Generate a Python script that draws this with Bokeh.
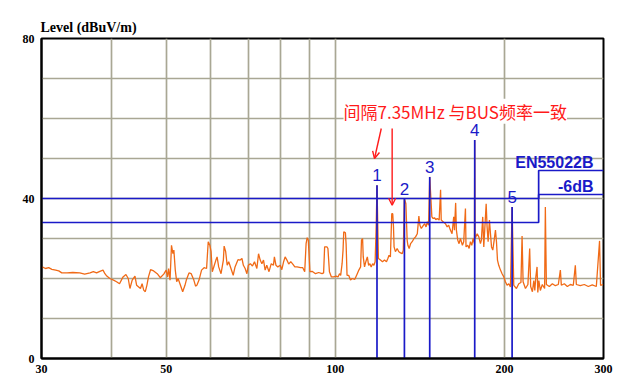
from bokeh.plotting import figure
from bokeh.models import FixedTicker, Label, Arrow, OpenHead
from bokeh.embed import file_html
from bokeh.resources import INLINE

# ---------------- data ----------------
freq = [30.08, 30.5, 30.9, 31.3, 31.8, 32.2, 32.6, 33.3, 34.1, 35.1, 35.8, 36.6, 37.1, 37.6, 38.1, 38.6,
        38.9, 39.2, 39.7, 40.3, 40.8, 41.3, 41.9, 42.4, 42.8, 43.1, 43.5, 44.0, 44.3, 45.0, 45.3, 45.6,
        45.9, 46.2, 46.5, 46.9, 47.5, 48.2, 48.8, 49.5, 50.0, 50.3, 50.5, 50.8, 51.1, 51.4, 51.6, 51.9,
        52.2, 52.5, 52.9, 53.5, 54.0, 54.3, 54.9, 55.4, 56.0, 56.4, 56.7, 57.2,
        57.8, 58.4, 59.0, 59.4, 59.8, 60.1, 60.4, 60.9, 61.3, 61.6, 62.0, 62.6, 63.2, 63.4, 63.8, 64.2,
        64.6, 65.2, 65.8, 66.3, 67.1, 67.7, 68.2, 68.6, 69.1, 69.6, 70.0, 70.6, 71.2, 71.8, 72.5, 73.0,
        73.5, 74.0, 74.5, 75.0, 75.5, 76.2, 76.9, 77.6, 77.9, 78.4, 79.0, 79.8, 80.3, 80.9, 81.4, 82.0,
        82.6, 83.3, 84.0, 84.7, 85.5, 86.7, 87.5, 88.2, 88.7, 89.1, 89.5, 89.7, 90.1, 90.9, 92.2, 93.4,
        94.7, 95.3, 95.7, 96.6, 97.0, 97.6, 98.4, 99.3, 100.3, 101.1, 101.7, 102.2, 102.8, 103.2, 103.5,
        104.2, 104.5, 104.9, 105.6, 106.4, 107.1, 108.3,
        109.4, 110.1, 110.9, 111.3, 111.8, 112.1, 112.7, 113.3, 114.0, 114.6, 115.2, 115.8, 116.5, 117.1,
        117.7, 118.2, 118.6, 119.3, 120.3, 121.3, 122.3, 123.3, 124.0, 124.6, 125.3, 126.0, 126.5, 126.9,
        127.2, 127.9, 128.8, 129.7, 130.6, 131.5, 132.1, 132.7, 133.5, 134.2, 134.6, 135.3, 136.1, 137.0,
        138.0, 138.9, 139.9, 140.8, 141.4, 142.2, 143.4, 144.2, 145.0, 145.8, 146.5, 147.2, 148.5, 149.3,
        150.1, 150.9, 151.8, 153.0, 153.9, 154.3, 155.5, 157.0, 158.1, 159.1, 160.2, 161.3, 162.4, 162.9,
        163.7, 164.2, 165.1, 166.0, 166.9, 168.3, 169.2, 170.4, 170.8, 172.0, 173.0, 173.9, 174.9, 175.8,
        176.8, 177.0, 177.3, 178.8, 180.0, 181.2,
        181.9, 182.9, 183.7, 184.4, 185.5, 186.2, 187.0, 188.0, 188.8, 189.6, 190.6, 191.7, 192.7, 193.5,
        194.3, 195.3, 196.7, 198.0, 199.4, 200.7, 202.1, 203.5, 204.9, 206.3, 207.7, 210.0, 212.0, 213.9,
        214.9, 215.8, 217.9, 220.1, 221.7, 222.6, 224.2, 225.5, 226.4, 227.4, 228.5, 229.2, 230.2, 231.6,
        233.5, 235.7, 236.4, 237.4, 240.3, 243.3, 246.3, 249.3, 251.4, 252.4, 255.5, 258.7, 261.9, 265.1,
        267.3, 268.4, 272.8, 277.3, 281.9, 286.5, 291.3, 295.2, 296.4, 299.5]
level = [22.9, 22.5, 22.7, 22.3, 22.1, 21.9, 21.4, 21.4, 21.5, 21.4, 21.1, 21.4, 21.7, 21.4, 21.8, 22.1,
         21.2, 20.6, 20.0, 19.6, 19.2, 18.7, 20.4, 21.0, 20.0, 17.5, 19.6, 20.6, 18.3, 17.5, 18.7, 17.1,
         16.7, 18.3, 20.4, 22.2, 21.9, 21.2, 20.2, 21.1, 22.1, 20.4, 22.5, 19.6, 28.3, 26.2, 27.1, 22.1,
         19.2, 20.0, 18.7, 16.7, 18.3, 19.6, 21.4, 21.2, 19.6, 18.1, 18.3, 19.6,
         22.1, 22.7, 22.5, 29.2, 28.3, 26.7, 21.7, 23.3, 24.6, 25.4, 22.9, 21.2, 24.6, 28.1, 26.7, 23.3,
         24.2, 22.5, 20.8, 22.9, 24.7, 24.6, 25.0, 23.3, 22.5, 21.2, 23.3, 23.7, 23.1, 24.2, 22.5, 26.2,
         24.6, 23.7, 24.6, 22.1, 23.3, 21.7, 23.7, 23.3, 25.4, 23.3, 22.9, 23.3, 22.2, 24.2, 25.4, 24.6,
         23.6, 24.2, 23.6, 22.9, 22.9, 22.7, 22.7, 21.7, 28.7, 30.2, 29.6, 27.1, 21.7, 21.8, 21.2, 21.5,
         21.2, 21.4, 27.9, 27.9, 27.5, 21.7, 20.4, 20.4, 20.6, 20.4, 21.2, 20.8, 23.7, 27.1, 31.7,
         31.4, 28.7, 20.8, 20.8, 19.6, 20.0, 19.8,
         21.2, 22.1, 22.9, 29.6, 30.0, 25.4, 22.9, 24.2, 25.4, 23.3, 23.7, 22.9, 23.7, 23.3,
         24.2, 32.9, 43.3, 25.0, 24.6, 24.2, 24.6, 24.2, 25.0, 25.8, 25.4, 36.2, 36.2, 32.9,
         27.9, 26.7, 27.5, 26.7, 26.4, 26.2, 27.1, 40.0, 38.7, 29.6, 28.3, 27.5, 28.7, 29.2,
         30.0, 30.4, 31.2, 35.6, 33.3, 32.5, 33.3, 33.7, 32.9, 34.2, 33.3, 45.4, 35.4, 35.0,
         35.2, 34.7, 35.0, 34.6, 42.2, 34.6, 34.2, 33.7, 32.9, 33.3, 32.1, 31.2, 35.4, 32.1,
         38.9, 32.1, 29.6, 28.7, 30.0, 28.3, 29.2, 37.5, 27.9, 28.3, 27.5, 29.2, 28.3, 30.0,
         28.7, 54.6, 30.0, 31.2, 30.4, 28.7,
         29.6, 35.4, 27.9, 32.1, 38.7, 32.9, 29.2, 34.6, 31.2, 27.9, 27.1, 29.6, 32.1, 29.2,
         24.6, 23.3, 22.1, 21.2, 20.4, 19.2, 18.3, 18.7, 17.9, 37.9, 18.3, 17.5, 18.7, 19.0,
         30.6, 19.2, 17.5, 18.5, 27.5, 18.0, 16.7, 19.5, 17.0, 20.5, 22.9, 16.5, 19.5, 17.0,
         18.5, 17.5, 37.9, 18.5, 18.0, 18.7, 18.2, 18.5, 22.1, 18.3, 18.7, 18.0, 18.5, 18.3,
         23.3, 18.5, 18.2, 18.5, 18.0, 18.4, 18.0, 29.4, 18.3, 18.5]

limit_freq = [30, 230, 230, 300]
limit_level = [40, 40, 47, 47]
margin_db = 6

marker_freq = [118.6, 132.7, 147.2, 177.0, 206.3]
marker_level = [43.3, 40.0, 45.4, 54.6, 37.9]
marker_label = ["1", "2", "3", "4", "5"]

x_ticks = [30, 50, 100, 200, 300]
x_tick_labels = ["30", "50", "100", "200", "300"]
x_grid = [40, 50, 60, 70, 80, 90, 100, 200]
y_ticks = [0, 40, 80]
y_grid = [10, 20, 30, 40, 50, 60, 70]

note_text = "间隔7.35MHz 与BUS频率一致"

# ---------------- styles ----------------
ORANGE = "#f06a16"
BLUE = "#1a1ac8"
RED = "#ff1a1a"
GRID = "#a9a794"

p = figure(width=618, height=378, x_axis_type="log", x_range=(30, 300), y_range=(0, 80),
           output_backend="svg", toolbar_location=None,
           min_border_left=41, min_border_right=15, min_border_top=38, min_border_bottom=20,
           title="Level (dBuV/m)")
p.background_fill_color = "white"
p.border_fill_color = "white"
p.outline_line_color = "black"
p.outline_line_width = 2

p.title.align = "left"
p.title.text_font = "Liberation Serif"
p.title.text_font_style = "bold"
p.title.text_font_size = "14px"
p.title.text_color = "black"
p.title.standoff = 7
p.title.offset = -1

p.xaxis.ticker = FixedTicker(ticks=x_ticks)
p.xaxis.major_label_overrides = {t: l for t, l in zip(x_ticks, x_tick_labels)}
p.yaxis.ticker = FixedTicker(ticks=y_ticks)
for ax in (p.xaxis, p.yaxis):
    ax.axis_line_color = "black"
    ax.axis_line_width = 2
    ax.major_tick_line_color = None
    ax.minor_tick_line_color = None
    ax.major_label_text_font = "Liberation Serif"
    ax.major_label_text_font_style = "bold"
    ax.major_label_text_font_size = "12px"
    ax.major_label_text_color = "black"
p.xaxis.major_label_standoff = 0
p.yaxis.major_label_standoff = 1

p.xgrid.ticker = FixedTicker(ticks=x_grid)
p.ygrid.ticker = FixedTicker(ticks=y_grid)
for g in (p.xgrid, p.ygrid):
    g.grid_line_color = GRID
    g.grid_line_width = 1.7

# spectrum trace
p.line(freq, level, line_color=ORANGE, line_width=1.3)

# limit lines
p.line(limit_freq, limit_level, line_color=BLUE, line_width=1.7)
p.line(limit_freq, [v - margin_db for v in limit_level], line_color=BLUE, line_width=1.7)

# markers
p.segment(x0=marker_freq, y0=[0] * len(marker_freq), x1=marker_freq, y1=marker_level,
          line_color=BLUE, line_width=1.7)
p.text(x=marker_freq, y=[v + 2.5 for v in marker_level], text=marker_label, text_color=BLUE,
       text_font_size="17px", text_align="center", text_baseline="middle",
       text_font={"value": "Liberation Sans"})

# limit labels
p.add_layout(Label(x=limit_freq[-1], y=limit_level[-1] + 2.0, text="EN55022B", x_offset=-10,
                   text_align="right", text_baseline="middle", text_color=BLUE,
                   text_font="Liberation Sans", text_font_style="bold", text_font_size="16px"))
p.add_layout(Label(x=limit_freq[-1], y=limit_level[-1] - margin_db + 2.1, text="-6dB", x_offset=-10,
                   text_align="right", text_baseline="middle", text_color=BLUE,
                   text_font="Liberation Sans", text_font_style="bold", text_font_size="16px"))

# red annotation
p.add_layout(Label(x=103.4, y=61.8, text=note_text, text_align="left", text_baseline="middle",
                   text_color=RED, text_font="Noto Sans CJK SC", text_font_size="17px",
                   background_fill_color="white", background_fill_alpha=1.0))
p.add_layout(Arrow(end=OpenHead(size=7, line_color=RED, line_width=1.4),
                   x_start=120.7, y_start=57.5, x_end=117.4, y_end=50.0,
                   line_color=RED, line_width=1.4))
p.add_layout(Arrow(end=OpenHead(size=7, line_color=RED, line_width=1.4),
                   x_start=126.2, y_start=57.5, x_end=126.2, y_end=38.3,
                   line_color=RED, line_width=1.4))

open("out.html", "w").write(file_html(p, INLINE))
